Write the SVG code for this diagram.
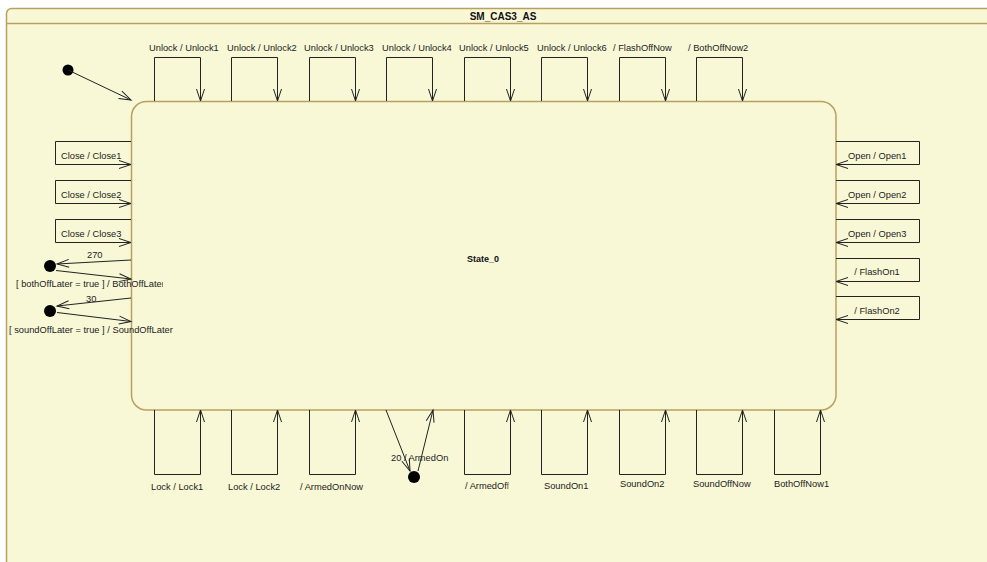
<svg xmlns="http://www.w3.org/2000/svg" width="987" height="562" viewBox="0 0 987 562">
<style>
.fr{fill:#f8f8d7;stroke:#b9a060;stroke-width:1.5}
.ln{fill:none;stroke:#222;stroke-width:1}
.t{font-family:"Liberation Sans",Arial,sans-serif;font-size:9.3px;fill:#222}
.b{font-family:"Liberation Sans",Arial,sans-serif;font-size:10px;font-weight:bold;fill:#111}
.dot{fill:#000}
</style>
<defs>
<marker id="ar" markerUnits="userSpaceOnUse" markerWidth="16" markerHeight="12" refX="13" refY="5" orient="auto">
<path d="M1,1 L13,5 L1,9" fill="none" stroke="#222" stroke-width="1"/>
</marker>
<clipPath id="c1"><rect x="0" y="270" width="163" height="25"/></clipPath>
<clipPath id="c2"><rect x="440" y="475" width="68.5" height="25"/></clipPath>
</defs>
<g id="frame">
<rect class="fr" x="6.5" y="8.5" width="1000" height="600" rx="5"/>
<line x1="6.5" y1="23.5" x2="987" y2="23.5" stroke="#b9a060" stroke-width="1.5"/>
<text class="b" x="503" y="19.5" text-anchor="middle">SM_CAS3_AS</text>
</g>
<g id="State_0">
<rect class="fr" x="131.5" y="101.5" width="704.5" height="308.5" rx="15"/>
<text class="b" x="483" y="262" text-anchor="middle" style="font-size:9px">State_0</text>
</g>
<g id="initial"><circle class="dot" cx="68" cy="70" r="5.5"/></g>
<g id="junction1"><circle class="dot" cx="50" cy="266" r="6"/></g>
<g id="junction2"><circle class="dot" cx="50" cy="311" r="6"/></g>
<g id="junction3"><circle class="dot" cx="414" cy="477" r="6"/></g>
<g id="connectors">
<path class="ln" marker-end="url(#ar)" d="M68,70 L131,100"/>
<path class="ln" marker-end="url(#ar)" d="M154.5,101 V57.5 H200.5 V101"/>
<path class="ln" marker-end="url(#ar)" d="M231.5,101 V57.5 H277.5 V101"/>
<path class="ln" marker-end="url(#ar)" d="M309.5,101 V57.5 H355.5 V101"/>
<path class="ln" marker-end="url(#ar)" d="M386.5,101 V57.5 H432.5 V101"/>
<path class="ln" marker-end="url(#ar)" d="M464.5,101 V57.5 H510.5 V101"/>
<path class="ln" marker-end="url(#ar)" d="M541.5,101 V57.5 H587.5 V101"/>
<path class="ln" marker-end="url(#ar)" d="M619.5,101 V57.5 H665.5 V101"/>
<path class="ln" marker-end="url(#ar)" d="M696.5,101 V57.5 H742.5 V101"/>
<path class="ln" marker-end="url(#ar)" d="M131,141.5 H55.5 V164.5 H131"/>
<path class="ln" marker-end="url(#ar)" d="M131,180.5 H55.5 V203.5 H131"/>
<path class="ln" marker-end="url(#ar)" d="M131,219.5 H55.5 V242.5 H131"/>
<path class="ln" marker-end="url(#ar)" d="M131,260 L57,264"/>
<path class="ln" marker-end="url(#ar)" d="M56,270.5 L131,279"/>
<path class="ln" marker-end="url(#ar)" d="M131,298 L57,306"/>
<path class="ln" marker-end="url(#ar)" d="M57,312.5 L131,321.5"/>
<path class="ln" marker-end="url(#ar)" d="M836,141.5 H919.5 V164.5 H836"/>
<path class="ln" marker-end="url(#ar)" d="M836,180.5 H919.5 V203.5 H836"/>
<path class="ln" marker-end="url(#ar)" d="M836,219.5 H919.5 V242.5 H836"/>
<path class="ln" marker-end="url(#ar)" d="M836,258.5 H919.5 V281.5 H836"/>
<path class="ln" marker-end="url(#ar)" d="M836,296.5 H919.5 V319.5 H836"/>
<path class="ln" marker-end="url(#ar)" d="M154.5,410 V474.5 H200.5 V410"/>
<path class="ln" marker-end="url(#ar)" d="M231.5,410 V474.5 H277.5 V410"/>
<path class="ln" marker-end="url(#ar)" d="M309.5,410 V474.5 H355.5 V410"/>
<path class="ln" marker-end="url(#ar)" d="M386,410 L410,471"/>
<path class="ln" marker-end="url(#ar)" d="M418,471 L433,410"/>
<path class="ln" marker-end="url(#ar)" d="M464.5,410 V474.5 H510.5 V410"/>
<path class="ln" marker-end="url(#ar)" d="M541.5,410 V474.5 H587.5 V410"/>
<path class="ln" marker-end="url(#ar)" d="M619.5,410 V474.5 H665.5 V410"/>
<path class="ln" marker-end="url(#ar)" d="M696.5,410 V474.5 H742.5 V410"/>
<path class="ln" marker-end="url(#ar)" d="M774.5,410 V474.5 H820.5 V410"/>
</g>
<g id="labels">
<text class="t" x="149" y="51">Unlock / Unlock1</text>
<text class="t" x="227" y="51">Unlock / Unlock2</text>
<text class="t" x="304" y="51">Unlock / Unlock3</text>
<text class="t" x="382" y="51">Unlock / Unlock4</text>
<text class="t" x="459" y="51">Unlock / Unlock5</text>
<text class="t" x="537" y="51">Unlock / Unlock6</text>
<text class="t" x="613" y="51">/ FlashOffNow</text>
<text class="t" x="688" y="51">/ BothOffNow2</text>
<text class="t" x="61" y="159">Close / Close1</text>
<text class="t" x="61" y="198">Close / Close2</text>
<text class="t" x="61" y="237">Close / Close3</text>
<text class="t" x="87" y="258">270</text>
<text class="t" x="16" y="287" clip-path="url(#c1)">[ bothOffLater = true ] / BothOffLater</text>
<text class="t" x="86" y="302">30</text>
<text class="t" x="9" y="333">[ soundOffLater = true ] / SoundOffLater</text>
<text class="t" x="848" y="159">Open / Open1</text>
<text class="t" x="848" y="198">Open / Open2</text>
<text class="t" x="848" y="237">Open / Open3</text>
<text class="t" x="877" y="275" text-anchor="middle">/ FlashOn1</text>
<text class="t" x="877" y="314" text-anchor="middle">/ FlashOn2</text>
<text class="t" x="151" y="490">Lock / Lock1</text>
<text class="t" x="228" y="490">Lock / Lock2</text>
<text class="t" x="300" y="490">/ ArmedOnNow</text>
<text class="t" x="391" y="461">20 / ArmedOn</text>
<text class="t" x="465" y="489" clip-path="url(#c2)">/ ArmedOff</text>
<text class="t" x="544" y="489">SoundOn1</text>
<text class="t" x="620" y="487">SoundOn2</text>
<text class="t" x="693" y="487">SoundOffNow</text>
<text class="t" x="774" y="487">BothOffNow1</text>
</g>
</svg>
